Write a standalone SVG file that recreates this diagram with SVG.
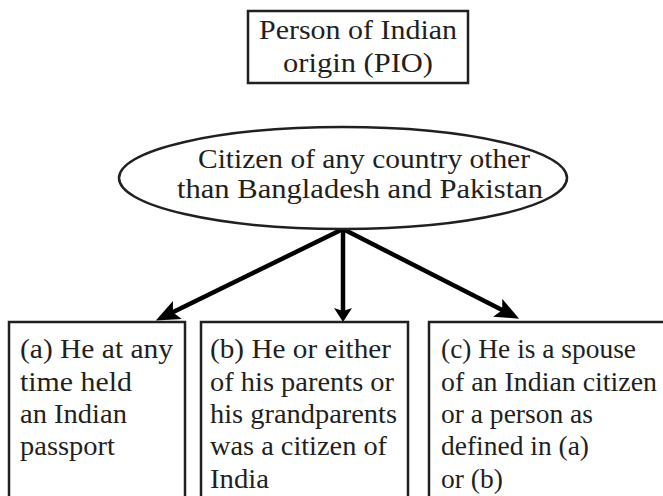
<svg xmlns="http://www.w3.org/2000/svg" width="663" height="496" viewBox="0 0 663 496">
<style>
.box{fill:#fff;stroke:#231f20;stroke-width:2.5}
.t{font-family:"Liberation Serif","Times New Roman",serif;font-size:27px;fill:#231f20}
.arr{stroke:#000;stroke-width:4.5;fill:none}
</style>
<defs>
<marker id="ah" markerUnits="userSpaceOnUse" markerWidth="24" markerHeight="20" viewBox="0 0 24 20" refX="16" refY="10" orient="auto">
<path d="M0,0 L24,10 L0,20 L5,10 Z" fill="#000"/>
</marker>
<marker id="ahs" markerUnits="userSpaceOnUse" markerWidth="14" markerHeight="18" viewBox="0 0 14 18" refX="8" refY="9" orient="auto">
<path d="M0,0 L14,9 L0,18 L3,9 Z" fill="#000"/>
</marker>
</defs>
<g id="connectors">
<line class="arr" x1="343" y1="229" x2="163" y2="317" marker-end="url(#ah)"/>
<line class="arr" x1="343" y1="229" x2="343" y2="316" marker-end="url(#ahs)"/>
<line class="arr" x1="343" y1="229" x2="512" y2="315" marker-end="url(#ah)"/>
</g>
<g id="pio">
<rect class="box" x="248" y="11" width="220" height="72"/>
<text class="t" x="259" y="39" textLength="198" lengthAdjust="spacingAndGlyphs">Person of Indian</text>
<text class="t" x="283" y="72" textLength="150" lengthAdjust="spacingAndGlyphs">origin (PIO)</text>
</g>
<g id="citizen">
<ellipse cx="343" cy="178" rx="224" ry="51" fill="#fff" stroke="#231f20" stroke-width="2.5"/>
<text class="t" x="198" y="168" textLength="332" lengthAdjust="spacingAndGlyphs">Citizen of any country other</text>
<text class="t" x="177" y="198" textLength="366" lengthAdjust="spacingAndGlyphs">than Bangladesh and Pakistan</text>
</g>
<g id="a">
<rect class="box" x="9" y="322" width="176" height="190"/>
<text class="t" x="20" y="358" textLength="153" lengthAdjust="spacingAndGlyphs">(a) He at any</text>
<text class="t" x="20" y="391" textLength="112" lengthAdjust="spacingAndGlyphs">time held</text>
<text class="t" x="20" y="423" textLength="107" lengthAdjust="spacingAndGlyphs">an Indian</text>
<text class="t" x="20" y="455" textLength="95" lengthAdjust="spacingAndGlyphs">passport</text>
</g>
<g id="b">
<rect class="box" x="201" y="322" width="207" height="190"/>
<text class="t" x="210" y="358" textLength="181" lengthAdjust="spacingAndGlyphs">(b) He or either</text>
<text class="t" x="210" y="391" textLength="184" lengthAdjust="spacingAndGlyphs">of his parents or</text>
<text class="t" x="210" y="423" textLength="187" lengthAdjust="spacingAndGlyphs">his grandparents</text>
<text class="t" x="210" y="455" textLength="177" lengthAdjust="spacingAndGlyphs">was a citizen of</text>
<text class="t" x="210" y="488" textLength="59" lengthAdjust="spacingAndGlyphs">India</text>
</g>
<g id="c">
<rect class="box" x="429" y="322" width="260" height="190"/>
<text class="t" x="441" y="358" textLength="195" lengthAdjust="spacingAndGlyphs">(c) He is a spouse</text>
<text class="t" x="441" y="391" textLength="216" lengthAdjust="spacingAndGlyphs">of an Indian citizen</text>
<text class="t" x="441" y="423" textLength="152" lengthAdjust="spacingAndGlyphs">or a person as</text>
<text class="t" x="441" y="455" textLength="148" lengthAdjust="spacingAndGlyphs">defined in (a)</text>
<text class="t" x="441" y="488" textLength="62" lengthAdjust="spacingAndGlyphs">or (b)</text>
</g>
</svg>
